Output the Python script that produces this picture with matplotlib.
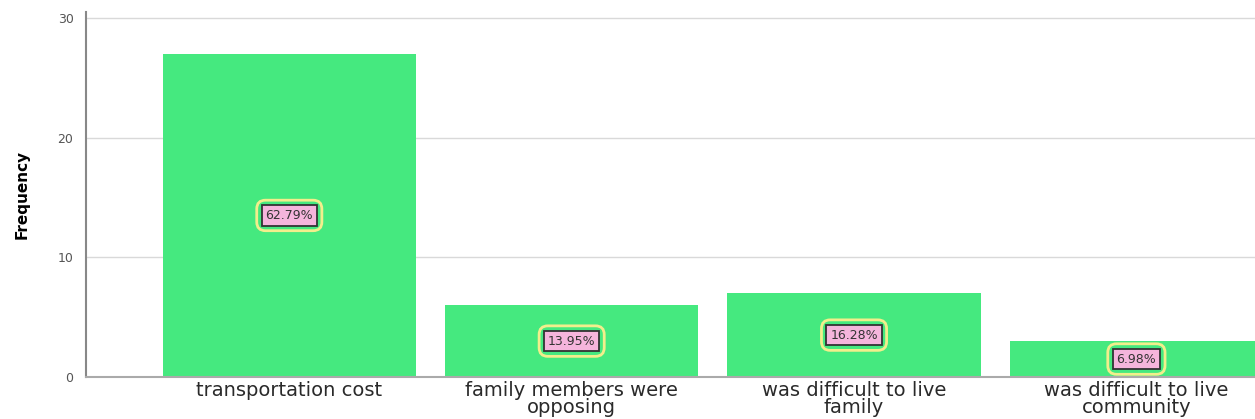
import matplotlib.pyplot as plt
import numpy as np

categories = ["transportation cost", "family members were\nopposing",
              "was difficult to live\nfamily", "was difficult to live\ncommunity"]
counts = [27, 6, 7, 3]
percent_labels = ["62.79%", "13.95%", "16.28%", "6.98%"]

fig = plt.figure(figsize=(12.55, 4.19), dpi=100)
ax = fig.add_axes([86 / 1255, 42 / 419, 1 - 86 / 1255, 1 - 54 / 419])

x = np.arange(len(categories))
ax.bar(x, counts, width=0.897, color="#45e97f", zorder=2)

for xi, c, lab in zip(x, counts, percent_labels):
    # outer yellow rounded frame
    ax.text(xi, c / 2, lab, fontsize=9, color=(0, 0, 0, 0), ha="center", va="center",
            zorder=3, bbox=dict(boxstyle="round,pad=0.7", fc="none", ec="#f2ee8c", lw=2))
    ax.text(xi, c / 2, lab, fontsize=9, color="#333333", ha="center", va="center",
            zorder=4, bbox=dict(boxstyle="square,pad=0.3", fc="#f5b5dc", ec="#333333", lw=1.3))

ax.set_xlim(-0.72, 3.42)
ax.set_ylim(0, 30.5)
ax.set_yticks([0, 10, 20, 30])
ax.set_xticks(x)
ax.set_xticklabels(categories, fontsize=14, color="#2a2a2a", linespacing=0.85)
ax.tick_params(axis="y", labelsize=9, colors="#555555", length=0, pad=9)
ax.tick_params(axis="x", length=0, pad=3)
ax.grid(axis="y", color="#d9d9d9", lw=1, zorder=0)

for s in ["top", "right"]:
    ax.spines[s].set_visible(False)
ax.spines["left"].set_color("#888888")
ax.spines["bottom"].set_color("#aaaaaa")
ax.spines["left"].set_linewidth(1.5)
ax.spines["bottom"].set_linewidth(1.5)

ax.set_ylabel("Frequency", fontsize=11, fontweight="bold")
ax.yaxis.set_label_coords(-0.048, 0.5)

fig.savefig("out.png", dpi=100)
